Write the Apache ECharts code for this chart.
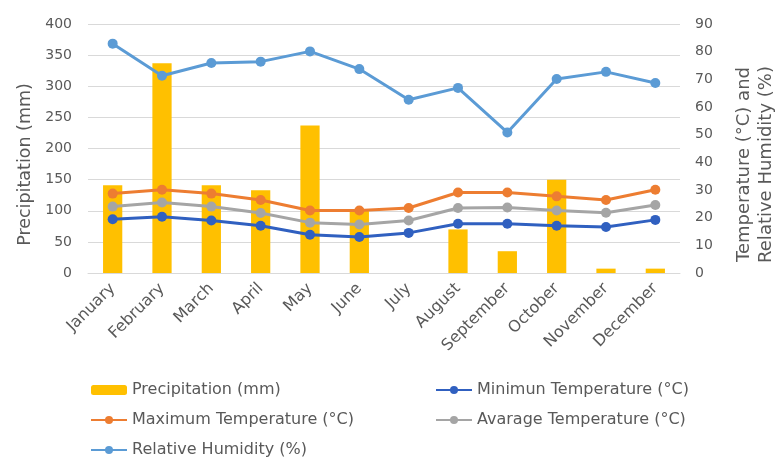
<!DOCTYPE html>
<html>
<head>
<meta charset="utf-8">
<script src="https://cdn.jsdelivr.net/npm/echarts@6/dist/echarts.min.js"></script>
<style>
  html, body { margin: 0; padding: 0; background: #fff; }
  #main { width: 776px; height: 459px; }
</style>
</head>
<body>
<div id="main"></div>
<script>
var months = ['January','February','March','April','May','June','July','August','September','October','November','December'];
var precipitation = [141, 337, 141, 133, 237, 100, 0, 70, 35, 150, 7, 7];
var maxTemp = [28.7, 30.1, 28.7, 26.4, 22.6, 22.6, 23.5, 29.1, 29.1, 27.7, 26.4, 30.1];
var avgTemp = [24.0, 25.5, 24.0, 21.7, 18.2, 17.5, 19.0, 23.5, 23.7, 22.6, 21.8, 24.6];
var minTemp = [19.4, 20.3, 19.0, 17.1, 13.8, 13.0, 14.5, 17.8, 17.8, 17.1, 16.6, 19.2];
var humidity = [82.9, 71.3, 75.9, 76.4, 80.1, 73.7, 62.6, 66.9, 50.8, 70.1, 72.7, 68.7];

var font = 'DejaVu Sans';
var txt = '#595959';

function lineSeries(name, data, color) {
    return {
        name: name,
        type: 'line',
        yAxisIndex: 1,
        data: data,
        symbol: 'circle',
        symbolSize: 10,
        lineStyle: { width: 3, color: color },
        itemStyle: { color: color }
    };
}

var myChart = echarts.init(document.getElementById('main'));
var option = {
    animation: false,
    textStyle: { fontFamily: font, color: txt },
    grid: { left: 88, right: 96, top: 24, bottom: 186, outerBoundsMode: 'none' },
    legend: [
        {
            orient: 'vertical', left: 85, top: 377, height: 100, itemGap: 14,
            itemWidth: 36, itemHeight: 10,
            textStyle: { fontFamily: font, fontSize: 16, color: txt },
            data: ['Precipitation (mm)', 'Maximum Temperature (°C)', 'Relative Humidity (%)']
        },
        {
            orient: 'vertical', left: 430, top: 377, height: 100, itemGap: 14,
            itemWidth: 36, itemHeight: 10,
            textStyle: { fontFamily: font, fontSize: 16, color: txt },
            data: ['Minimun Temperature (°C)', 'Avarage Temperature (°C)']
        }
    ],
    xAxis: {
        type: 'category',
        data: months,
        axisLine: { lineStyle: { color: '#D9D9D9' } },
        axisTick: { show: false },
        axisLabel: { rotate: 45, fontSize: 16, color: txt, fontFamily: font, interval: 0, margin: 13 }
    },
    yAxis: [
        {
            type: 'value', min: 0, max: 400, interval: 50,
            name: 'Precipitation (mm)', nameLocation: 'middle', nameGap: 52,
            nameTextStyle: { fontSize: 17.5, color: txt, fontFamily: font, padding: [0, 32, 0, 0] },
            axisLabel: { fontSize: 14, color: txt, fontFamily: font, margin: 16 },
            splitLine: { lineStyle: { color: '#D9D9D9' } },
            axisLine: { show: false }, axisTick: { show: false }
        },
        {
            type: 'value', min: 0, max: 90, interval: 10,
            name: 'Temperature (°C) and\nRelative Humidity (%)', nameLocation: 'middle', nameGap: 53,
            nameRotate: 90,
            nameTextStyle: { fontSize: 18, color: txt, fontFamily: font, lineHeight: 22, padding: [0, 32, 0, 0] },
            axisLabel: { fontSize: 14, color: txt, fontFamily: font, margin: 15 },
            splitLine: { show: false },
            axisLine: { show: false }, axisTick: { show: false }
        }
    ],
    series: [
        {
            name: 'Precipitation (mm)',
            type: 'bar',
            data: precipitation,
            barWidth: '39%',
            itemStyle: { color: '#FFC000' }
        },
        lineSeries('Maximum Temperature (°C)', maxTemp, '#ED7D31'),
        lineSeries('Minimun Temperature (°C)', minTemp, '#3060C0'),
        lineSeries('Avarage Temperature (°C)', avgTemp, '#A5A5A5'),
        lineSeries('Relative Humidity (%)', humidity, '#5B9BD5')
    ]
};
myChart.setOption(option);
</script>
</body>
</html>
